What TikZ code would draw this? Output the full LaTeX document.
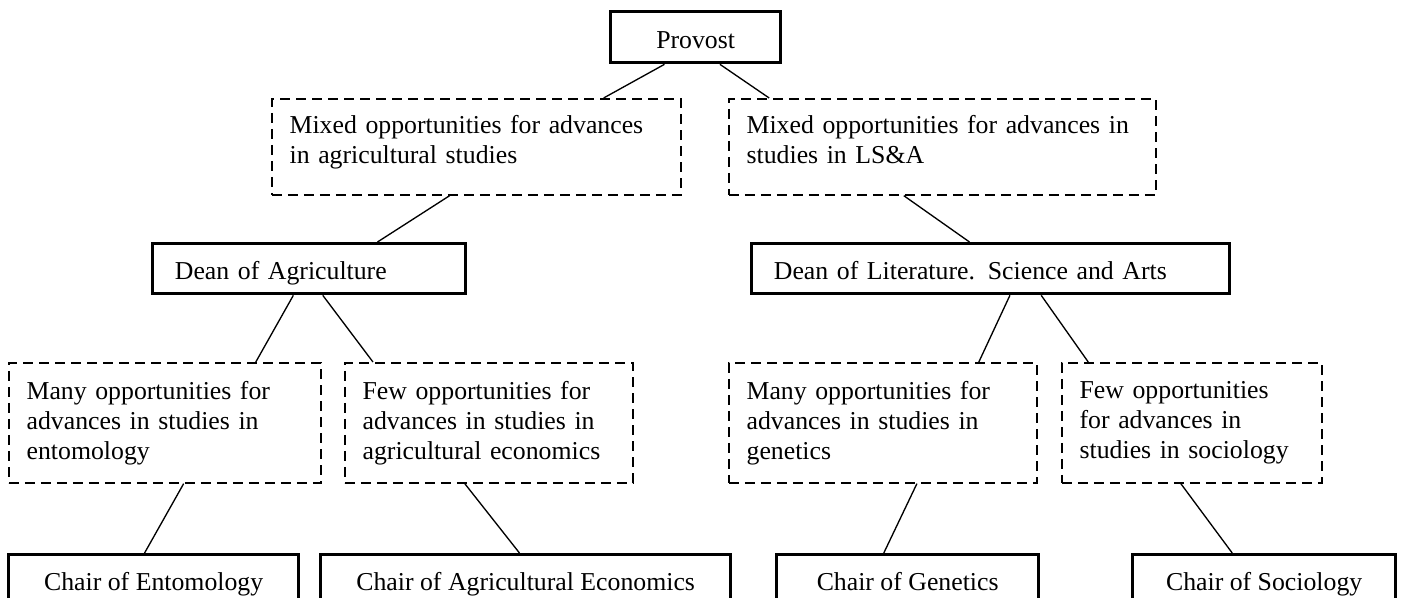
\documentclass[tikz,border=0pt]{standalone}
\usepackage{fontspec}
\setmainfont{Liberation Serif}
\usetikzlibrary{calc, positioning}

\begin{document}
\begin{tikzpicture}[x=0.45pt, y=-0.45pt, font=\fontsize{11.6}{13.5}\selectfont,
    solidbox/.style={draw, line width=1.5pt, anchor=north west, inner sep=0pt, minimum height=22.5pt, text height=11pt, text depth=1pt},
    leftbox/.style={solidbox, align=left, inner xsep=10pt},
    dashbox/.style={draw, line width=0.75pt, dash pattern=on 4.5pt off 2.7pt, anchor=north west, inner xsep=8pt, inner ysep=0pt, align=left},
    mixbox/.style={dashbox, minimum height=43.2pt, text height=8pt, text depth=19.7pt},
    link/.style={line width=0.6pt}]
      \clip (0,0) rectangle (1407,598);
      \node[solidbox, minimum width=76.5pt, minimum height=22.95pt] (Prov) at (609,10) {Provost};
      \node[mixbox, text width=168.05pt] (MixA) at (271,98) {Mixed opportunities for advances\\ in agricultural studies};
      \node[mixbox, text width=176.15pt] (MixL) at (728,98) {Mixed opportunities for advances in\\ studies in LS\&A};
      \node[leftbox, text width=120.85pt] (DeanA) at (151,242) {Dean of Agriculture};
      \node[leftbox, text width=195.1pt] (DeanL) at (750,242) {Dean of Literature. Science and Arts};
      \node[dashbox, text width=124.4pt, minimum height=54pt] (ManyE) at (8,362) {Many opportunities for\\ advances in studies in\\ entomology};
      \node[dashbox, text width=113.6pt, minimum height=54pt] (FewE) at (344,362) {Few opportunities for\\ advances in studies in\\ agricultural economics};
      \node[dashbox, text width=122.6pt, minimum height=54pt] (ManyG) at (728,362) {Many opportunities for\\ advances in studies in\\ genetics};
      \node[dashbox, text width=101pt, minimum height=54pt] (FewS) at (1061,362) {Few opportunities\\ for advances in\\ studies in sociology};
      \node[solidbox, minimum width=130.5pt] (ChE) at (7,553) {Chair of Entomology};
      \node[solidbox, minimum width=184.5pt] (ChAE) at (319,553) {Chair of Agricultural Economics};
      \node[solidbox, minimum width=117.9pt] (ChG) at (775,553) {Chair of Genetics};
      \node[solidbox, minimum width=118.35pt] (ChS) at (1131,553) {Chair of Sociology};
      \foreach \a/\fa/\b/\fb in {Prov/.32/MixA/.81, Prov/.64/MixL/.096, MixA/.435/DeanA/.716, MixL/.41/DeanL/.456,
          DeanA/.45/ManyE/.79, DeanA/.543/FewE/.10, DeanL/.54/ManyG/.81, DeanL/.605/FewS/.104,
          ManyE/.56/ChE/.469, FewE/.417/ChAE/.485, ManyG/.61/ChG/.41, FewS/.458/ChS/.38} {
        \draw[link] ($(\a.south west)!\fa!(\a.south east)$) -- ($(\b.north west)!\fb!(\b.north east)$);
      }
\end{tikzpicture}
\end{document}
